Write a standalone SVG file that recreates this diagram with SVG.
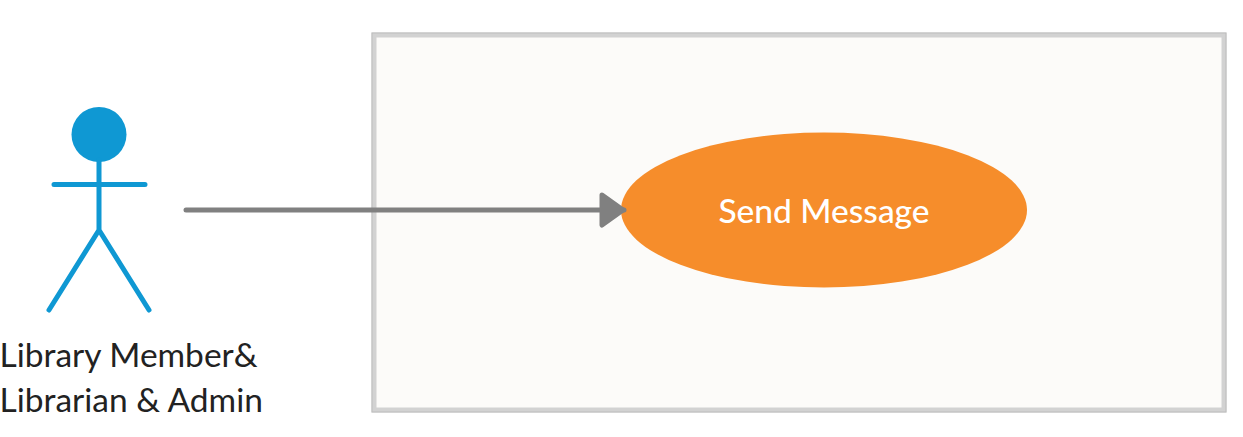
<svg xmlns="http://www.w3.org/2000/svg" width="1243" height="437" viewBox="0 0 1243 437">
<style>
.stick{fill:none;stroke:#0f98d3;stroke-width:5;stroke-linecap:round;stroke-linejoin:round}
.lbl{font-family:Lato,"Open Sans",sans-serif;font-size:33.500px;fill:#222}
</style>
<defs><marker id="arr" markerUnits="userSpaceOnUse" markerWidth="32" markerHeight="44" refX="27" refY="20" orient="auto"><path d="M5 5L26 20L5 35Z" fill="#808080" stroke="#808080" stroke-width="5" stroke-linejoin="round"/></marker></defs>
<rect width="1243" height="437" fill="#fff"/>
<g id="system"><rect x="374" y="35" width="850" height="375" fill="#fcfbf9" stroke="#d2d2d2" stroke-width="5"/><rect x="372" y="33" width="854" height="379" fill="none" stroke="#bdbdbd" stroke-width="1"/></g>
<g id="actor">
<circle cx="99" cy="134.500" r="27.500" fill="#0f98d3"/>
<path class="stick" d="M99 160V230M54 184.500H145M99 230L49 310M99 230L149 310"/>
<text class="lbl" x="-0.500" y="367">Library Member&amp;</text>
<text class="lbl" x="-0.500" y="412">Librarian &amp; Admin</text>
</g>
<g id="usecase"><ellipse cx="824" cy="210" rx="203" ry="77.500" fill="#f68d2b"/><text x="824" y="223" text-anchor="middle" font-family="Lato,'Open Sans',sans-serif" font-size="33.500" font-weight="500" fill="#fff">Send Message</text></g>
<g id="connectors"><path d="M186 210H624" fill="none" stroke="#808080" stroke-width="5" stroke-linecap="round" marker-end="url(#arr)"/></g>
</svg>
